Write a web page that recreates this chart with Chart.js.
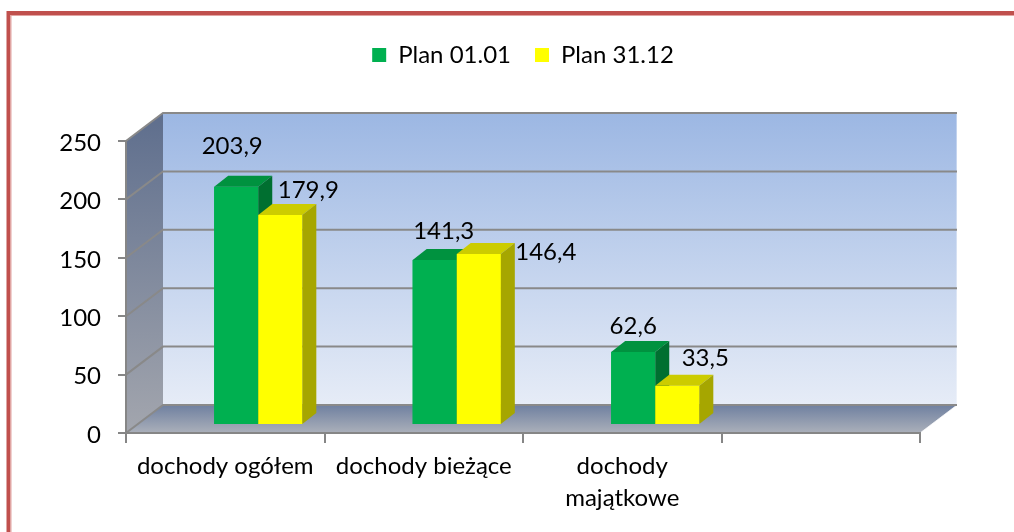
<!DOCTYPE html>
<html>
<head>
<meta charset="utf-8">
<script src="https://cdn.jsdelivr.net/npm/chart.js@4.4.1/dist/chart.umd.min.js"></script>
<style>
html,body{margin:0;padding:0;background:#fff;}
#wrap{position:relative;width:1014px;height:532px;}
canvas{display:block;}
</style>
</head>
<body>
<div id="wrap"><canvas id="c" width="1014" height="532"></canvas></div>
<script>
// ---- data ----
const categories = ['dochody ogółem', 'dochody bieżące', ['dochody', 'majątkowe'], ''];
const seriesNames = ['Plan 01.01', 'Plan 31.12'];
const plan0101 = [203.9, 141.3, 62.6, null];
const plan3112 = [179.9, 146.4, 33.5, null];
const yTicks = [0, 50, 100, 150, 200, 250];

// ---- styling ----
const FONT = 'Lato, "Open Sans", sans-serif';
const frontColors = ['#00B050', '#FFFF00'];
const topColors = ['#00923F', '#CCCC00'];
const sideColors = ['#006F30', '#A6A600'];
const WALL_DX = 37, WALL_DY = -28;   // depth of the 3D box
const BAR_TX = 33, BAR_TY = -8;      // bars sit a little behind the front plane
const BAR_DX = 14, BAR_DY = -11;     // depth of each bar
const LEGEND_LIFT = 64;
// label nudges relative to bar front-top centre
const labelOffsets = [
  [[-4, -41], [9, -29], [0, -26]],
  [[28, -25], [67, -2], [28, -28]]
];
const fmt = v => v.toFixed(1).replace('.', ',');

const threeD = {
  id: 'threeD',
  afterLayout(chart) {
    const lg = chart.legend;
    if (lg) { lg.top -= LEGEND_LIFT; lg.bottom -= LEGEND_LIFT; }
  },
  beforeDraw(chart) {
    const {ctx, chartArea: a, scales: {y}} = chart;
    ctx.save();
    ctx.fillStyle = '#fff';
    ctx.fillRect(0, 0, chart.width, chart.height);
    // outer frame
    ctx.strokeStyle = '#C0504D';
    ctx.lineWidth = 4;
    ctx.strokeRect(8.5, 13, 1100, 700);
    ctx.strokeStyle = '#E2A4A2';
    ctx.lineWidth = 1;
    ctx.strokeRect(11, 15.5, 1100, 700);

    const yTop = y.getPixelForValue(yTicks[yTicks.length - 1]);
    const yBot = y.getPixelForValue(0);
    const L = a.left, R = a.right;
    // back wall
    let g = ctx.createLinearGradient(0, yTop + WALL_DY, 0, yBot + WALL_DY);
    g.addColorStop(0, '#9CB7E3');
    g.addColorStop(1, '#E6ECF7');
    ctx.fillStyle = g;
    ctx.fillRect(L + WALL_DX, yTop + WALL_DY, R - L, yBot - yTop);
    // left wall
    g = ctx.createLinearGradient(0, yTop + WALL_DY, 0, yBot);
    g.addColorStop(0, '#5E6E8D');
    g.addColorStop(1, '#A3A6AE');
    ctx.fillStyle = g;
    ctx.beginPath();
    ctx.moveTo(L, yTop); ctx.lineTo(L + WALL_DX, yTop + WALL_DY);
    ctx.lineTo(L + WALL_DX, yBot + WALL_DY); ctx.lineTo(L, yBot);
    ctx.closePath(); ctx.fill();
    // floor
    g = ctx.createLinearGradient(0, yBot + WALL_DY, 0, yBot);
    g.addColorStop(0, '#6F80A0');
    g.addColorStop(1, '#ABB0BA');
    ctx.fillStyle = g;
    ctx.beginPath();
    ctx.moveTo(L, yBot); ctx.lineTo(L + WALL_DX, yBot + WALL_DY);
    ctx.lineTo(R + WALL_DX, yBot + WALL_DY); ctx.lineTo(R, yBot);
    ctx.closePath(); ctx.fill();
    // floor right edge highlight
    ctx.strokeStyle = 'rgba(255,255,255,0.7)';
    ctx.lineWidth = 1;
    ctx.beginPath();
    ctx.moveTo(R, yBot); ctx.lineTo(R + WALL_DX, yBot + WALL_DY);
    ctx.lineTo(R + WALL_DX, yTop + WALL_DY);
    ctx.stroke();
    // gridlines
    ctx.strokeStyle = '#898989';
    ctx.lineWidth = 2;
    yTicks.forEach(v => {
      const py = y.getPixelForValue(v);
      ctx.beginPath();
      ctx.moveTo(L, py);
      ctx.lineTo(L + WALL_DX, py + WALL_DY);
      ctx.lineTo(R + WALL_DX, py + WALL_DY);
      ctx.stroke();
    });
    ctx.restore();
  },
  beforeDatasetsDraw(chart) {
    chart.ctx.save();
    chart.ctx.translate(BAR_TX, BAR_TY);
  },
  afterDatasetsDraw(chart) {
    const ctx = chart.ctx;
    const sets = chart.data.datasets;
    const metas = sets.map((d, i) => chart.getDatasetMeta(i));
    for (let j = 0; j < categories.length; j++) {
      metas.forEach((m, i) => {
        const v = sets[i].data[j];
        const el = m.data[j];
        if (v == null || !el) return;
        const p = el.getProps(['x', 'y', 'base', 'width'], true);
        const l = p.x - p.width / 2, r = p.x + p.width / 2, t = p.y, b = p.base;
        ctx.fillStyle = frontColors[i];
        ctx.fillRect(l, t, r - l, b - t);
        ctx.fillStyle = topColors[i];
        ctx.beginPath();
        ctx.moveTo(l, t); ctx.lineTo(l + BAR_DX, t + BAR_DY);
        ctx.lineTo(r + BAR_DX, t + BAR_DY); ctx.lineTo(r, t);
        ctx.closePath(); ctx.fill();
        ctx.fillStyle = sideColors[i];
        ctx.beginPath();
        ctx.moveTo(r, t); ctx.lineTo(r + BAR_DX, t + BAR_DY);
        ctx.lineTo(r + BAR_DX, b + BAR_DY); ctx.lineTo(r, b);
        ctx.closePath(); ctx.fill();
      });
    }
    ctx.restore();
    // value labels
    ctx.save();
    ctx.font = '24px ' + FONT;
    ctx.fillStyle = '#000';
    ctx.textAlign = 'center';
    ctx.textBaseline = 'middle';
    metas.forEach((m, i) => {
      sets[i].data.forEach((v, j) => {
        if (v == null) return;
        const p = m.data[j].getProps(['x', 'y'], true);
        const off = labelOffsets[i][j];
        ctx.fillText(fmt(v), p.x + BAR_TX + off[0], p.y + BAR_TY + off[1]);
      });
    });
    ctx.restore();
  }
};

Chart.defaults.font.family = FONT;
Chart.defaults.color = '#000';

new Chart(document.getElementById('c'), {
  type: 'bar',
  data: {
    labels: categories,
    datasets: [
      { label: seriesNames[0], data: plan0101, backgroundColor: frontColors[0], borderWidth: 0 },
      { label: seriesNames[1], data: plan3112, backgroundColor: frontColors[1], borderWidth: 0 }
    ]
  },
  options: {
    responsive: false,
    animation: false,
    devicePixelRatio: 1,
    datasets: { bar: { barPercentage: 1, categoryPercentage: 0.444, clip: false } },
    layout: { padding: { top: 83, right: 94, bottom: 0, left: 0 } },
    plugins: {
      legend: {
        position: 'top',
        fullSize: false,
        labels: { boxWidth: 14, boxHeight: 14, padding: 24, color: '#000', font: { size: 24, family: FONT } }
      },
      tooltip: { enabled: false }
    },
    scales: {
      x: {
        type: 'category',
        offset: true,
        grid: { offset: true, drawOnChartArea: false, drawTicks: true, tickLength: 10, color: '#868686', lineWidth: 2 },
        border: { display: true, color: '#868686', width: 2 },
        ticks: { color: '#000', font: { size: 24, family: FONT, lineHeight: 1.333 }, padding: 7, maxRotation: 0, minRotation: 0, autoSkip: false },
        afterFit: s => { s.height = 99; }
      },
      y: {
        min: 0,
        max: 250,
        afterBuildTicks: s => { s.ticks = yTicks.map(v => ({ value: v })); },
        ticks: { color: '#000', font: { size: 24, family: FONT }, padding: 17, labelOffset: 2 },
        grid: { drawOnChartArea: false, drawTicks: true, tickLength: 8, color: '#868686', lineWidth: 2 },
        border: { display: true, color: '#868686', width: 2 },
        afterFit: s => { s.width = 126; }
      }
    }
  },
  plugins: [threeD]
});
</script>
</body>
</html>
